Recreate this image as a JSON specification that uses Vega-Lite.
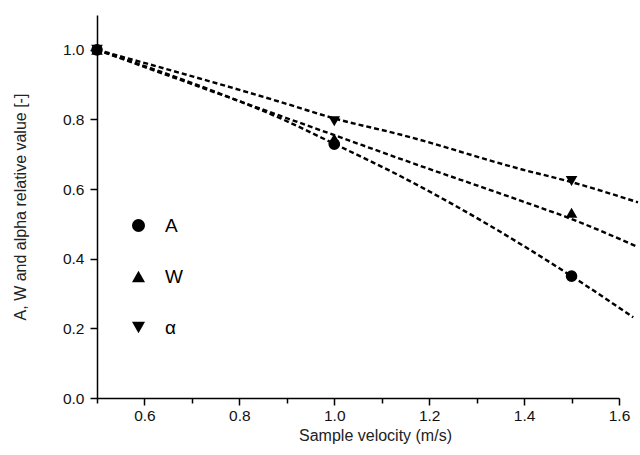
{
  "$schema": "https://vega.github.io/schema/vega-lite/v6.json",
  "width": 522,
  "height": 383,
  "autosize": {"type": "none"},
  "padding": {"left": 97, "top": 15, "right": 21, "bottom": 57},
  "background": "white",
  "config": {
    "view": {"stroke": null},
    "font": "Liberation Sans",
    "axis": {
      "grid": false,
      "domainColor": "black",
      "domainWidth": 1.5,
      "tickColor": "black",
      "tickWidth": 1.5,
      "labelColor": "#111",
      "labelFontSize": 15.5,
      "labelFont": "Liberation Sans",
      "titleFont": "Liberation Sans",
      "titleColor": "#222",
      "titleFontSize": 16,
      "titleFontWeight": "normal",
      "labelFlush": false,
      "labelOverlap": false,
      "labelBound": false
    }
  },
  "datasets": {
    "pts": [
      {"series": "A", "v": 0.5, "r": 1.0},
      {"series": "A", "v": 1.0, "r": 0.729},
      {"series": "A", "v": 1.5, "r": 0.35},
      {"series": "W", "v": 0.5, "r": 1.0},
      {"series": "W", "v": 1.0, "r": 0.745},
      {"series": "W", "v": 1.5, "r": 0.532},
      {"series": "α", "v": 0.5, "r": 1.0},
      {"series": "α", "v": 1.0, "r": 0.795},
      {"series": "α", "v": 1.5, "r": 0.623}
    ],
    "fit": [
      {"series": "A", "v": 0.5, "r": 1.0},
      {"series": "A", "v": 0.75, "r": 0.879},
      {"series": "A", "v": 0.887, "r": 0.803},
      {"series": "A", "v": 1.0, "r": 0.73},
      {"series": "A", "v": 1.141, "r": 0.636},
      {"series": "A", "v": 1.25, "r": 0.556},
      {"series": "A", "v": 1.394, "r": 0.441},
      {"series": "A", "v": 1.5, "r": 0.35},
      {"series": "A", "v": 1.63, "r": 0.232},
      {"series": "W", "v": 0.5, "r": 1.0},
      {"series": "W", "v": 0.887, "r": 0.81},
      {"series": "W", "v": 1.0, "r": 0.755},
      {"series": "W", "v": 1.141, "r": 0.686},
      {"series": "W", "v": 1.394, "r": 0.566},
      {"series": "W", "v": 1.5, "r": 0.514},
      {"series": "W", "v": 1.636, "r": 0.436},
      {"series": "α", "v": 0.5, "r": 1.0},
      {"series": "α", "v": 0.887, "r": 0.85},
      {"series": "α", "v": 1.0, "r": 0.803},
      {"series": "α", "v": 1.141, "r": 0.756},
      {"series": "α", "v": 1.394, "r": 0.657},
      {"series": "α", "v": 1.5, "r": 0.62},
      {"series": "α", "v": 1.64, "r": 0.562}
    ]
  },
  "layer": [
    {
      "data": {"name": "fit"},
      "mark": {"type": "line", "interpolate": "monotone", "color": "black", "strokeWidth": 2.4, "strokeDash": [5, 3]},
      "encoding": {
        "x": {
          "field": "v", "type": "quantitative",
          "scale": {"domain": [0.5, 1.6], "nice": false, "zero": false},
          "axis": {
            "title": "Sample velocity (m/s)",
            "values": [0.5, 0.6, 0.7, 0.8, 0.9, 1.0, 1.1, 1.2, 1.3, 1.4, 1.5, 1.6],
            "labelExpr": "round(datum.value*10)%2==0 ? format(datum.value,'.1f') : ''",
            "tickSize": {"condition": {"test": "round(datum.value*10)%2==0", "value": 7}, "value": 5},
            "labelPadding": 3,
            "titlePadding": 4,
            "titleX": 278,
            "titleAlign": "center"
          }
        },
        "y": {
          "field": "r", "type": "quantitative",
          "scale": {"domain": [0, 1.1], "nice": false, "zero": true},
          "axis": {
            "title": "A, W and alpha relative value [-]",
            "values": [0, 0.1, 0.2, 0.3, 0.4, 0.5, 0.6, 0.7, 0.8, 0.9, 1.0, 1.1],
            "labelExpr": "round(datum.value*10)%2==0 ? format(datum.value,'.1f') : ''",
            "tickSize": {"condition": {"test": "round(datum.value*10)%2==0", "value": 7}, "value": 5},
            "labelPadding": 6,
            "titlePadding": 34
          }
        },
        "detail": {"field": "series", "type": "nominal"}
      }
    },
    {
      "data": {"name": "pts"},
      "mark": {"type": "point", "filled": true, "color": "black", "opacity": 1, "size": 135, "strokeWidth": 0},
      "encoding": {
        "x": {"field": "v", "type": "quantitative"},
        "y": {"field": "r", "type": "quantitative"},
        "shape": {
          "field": "series", "type": "nominal",
          "scale": {"domain": ["A", "W", "α"], "range": ["circle", "triangle-up", "triangle-down"]},
          "legend": {
            "orient": "none",
            "legendX": 32,
            "legendY": 201,
            "title": null,
            "padding": 0,
            "symbolSize": 170,
            "symbolFillColor": "black",
            "symbolStrokeColor": "black",
            "symbolStrokeWidth": 0,
            "labelFontSize": 19,
            "labelFont": "Liberation Sans",
            "labelColor": "black",
            "labelOffset": 17,
            "rowPadding": 31
          }
        }
      }
    }
  ]
}
